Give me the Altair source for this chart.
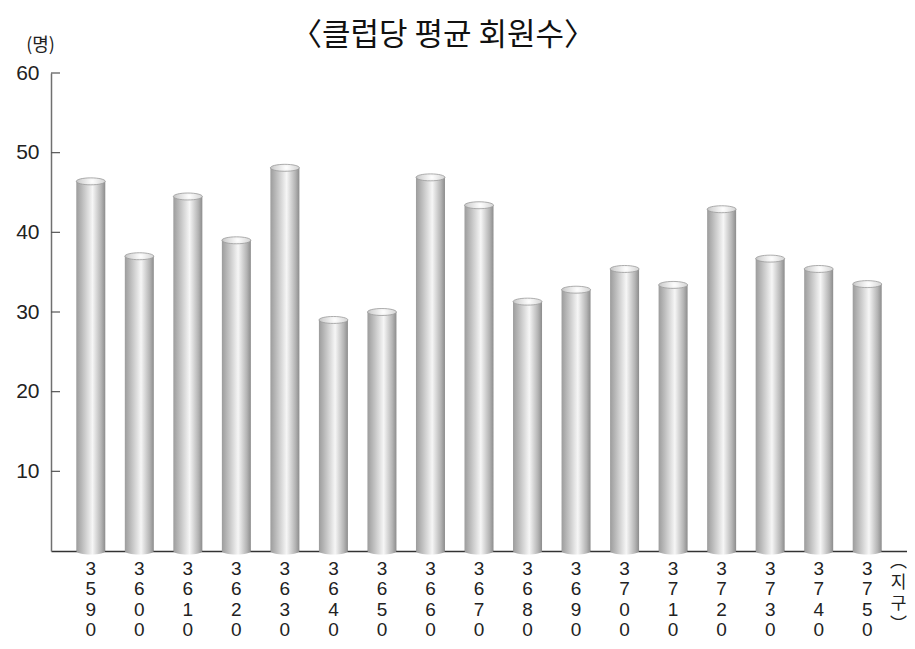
import altair as alt
import pandas as pd

districts = ["3590", "3600", "3610", "3620", "3630", "3640", "3650", "3660", "3670",
             "3680", "3690", "3700", "3710", "3720", "3730", "3740", "3750"]
members = [46.4, 37.0, 44.5, 39.0, 48.1, 29.0, 30.0, 46.9, 43.4,
           31.3, 32.8, 35.4, 33.4, 42.9, 36.7, 35.4, 33.5]
y_ticks = [10, 20, 30, 40, 50, 60]

df = pd.DataFrame({"district": districts, "value": members})
df["zero"] = 0
ticks_df = pd.DataFrame({"t": y_ticks})

FONT = "Liberation Sans"
KFONT = "Noto Sans CJK KR"

k = 0.24
c = k * 0.5523
ellipse = (f"M-1,0 C-1,{-c} -0.5523,{-k} 0,{-k} C0.5523,{-k} 1,{-c} 1,0 "
           f"C1,{c} 0.5523,{k} 0,{k} C-0.5523,{k} -1,{c} -1,0 Z")

body_grad = alt.Gradient(
    gradient="linear", x1=0, x2=1, y1=0, y2=0,
    stops=[alt.GradientStop(color="#9c9c9c", offset=0),
           alt.GradientStop(color="#b8b8b8", offset=0.18),
           alt.GradientStop(color="#f6f6f6", offset=0.56),
           alt.GradientStop(color="#b4b4b4", offset=0.86),
           alt.GradientStop(color="#8c8c8c", offset=1)])
top_grad = alt.Gradient(
    gradient="radial", x1=0.55, y1=0.5, x2=0.55, y2=0.5, r1=0, r2=0.6,
    stops=[alt.GradientStop(color="#ffffff", offset=0),
           alt.GradientStop(color="#d6d6d6", offset=0.7),
           alt.GradientStop(color="#b8b8b8", offset=1)])

BAR_W = 29
SIZE = BAR_W * BAR_W

x_enc = alt.X("district:N", sort=None,
              scale=alt.Scale(paddingInner=0.4, paddingOuter=0.52),
              axis=alt.Axis(labelExpr="split(datum.label, '')", labelAngle=0,
                            labelFont=FONT, labelFontSize=19, labelLineHeight=20.5,
                            labelBaseline="top", labelPadding=8, labelColor="#222",
                            ticks=False, tickSize=0, domainColor="#333", domainWidth=1.5,
                            title=["︵", "지", "구", "︶"], titleAngle=0,
                            titleX=847, titleY=2, titleAlign="center",
                            titleBaseline="top", titleFont=KFONT, titleFontSize=17,
                            titleLineHeight=21, titleFontWeight="normal",
                            titleColor="#222"))
y_scale = alt.Scale(domain=[0, 60], nice=False)
y_axis = alt.Axis(values=y_ticks, ticks=False, tickSize=0, grid=False,
                  labelFont=FONT, labelFontSize=21, labelPadding=12, labelColor="#222",
                  domainColor="#707070", domainWidth=1.5,
                  title="(명)", titleAngle=0, titleX=-11, titleY=-28,
                  titleAlign="center", titleBaseline="middle", titleFont=KFONT,
                  titleFontSize=18, titleFontWeight="normal", titleColor="#222")

base = alt.Chart(df)

bottom = base.mark_point(shape=ellipse, size=SIZE, filled=True, fill=body_grad,
                         opacity=1, strokeWidth=0).encode(
    x=x_enc, y=alt.Y("zero:Q", scale=y_scale, axis=y_axis))
bars = base.mark_bar(width=BAR_W, fill=body_grad).encode(
    x=x_enc, y=alt.Y("value:Q", scale=y_scale, axis=y_axis))
tops = base.mark_point(shape=ellipse, size=SIZE, filled=True, fill=top_grad,
                       opacity=1, stroke="#9a9a9a", strokeWidth=0.8).encode(
    x=x_enc, y=alt.Y("value:Q", scale=y_scale, axis=y_axis))
tick_rules = alt.Chart(ticks_df).mark_rule(color="#555", strokeWidth=1.2).encode(
    y=alt.Y("t:Q", scale=y_scale, axis=y_axis), x=alt.value(0), x2=alt.value(9))

chart = alt.layer(tick_rules, bottom, bars, tops).properties(
    width=856, height=478,
    padding={"left": 43, "top": 65, "right": 0, "bottom": 90},
    autosize=alt.AutoSizeParams(type="none"),
    background="white",
    title=alt.TitleParams("〈클럽당 평균 회원수〉", font=KFONT, fontSize=31,
                          fontWeight="normal", color="#111", anchor="middle",
                          dx=-36, dy=20),
).configure_view(stroke=None)

chart.save("out.html", embed_options={"renderer": "svg", "actions": False})
